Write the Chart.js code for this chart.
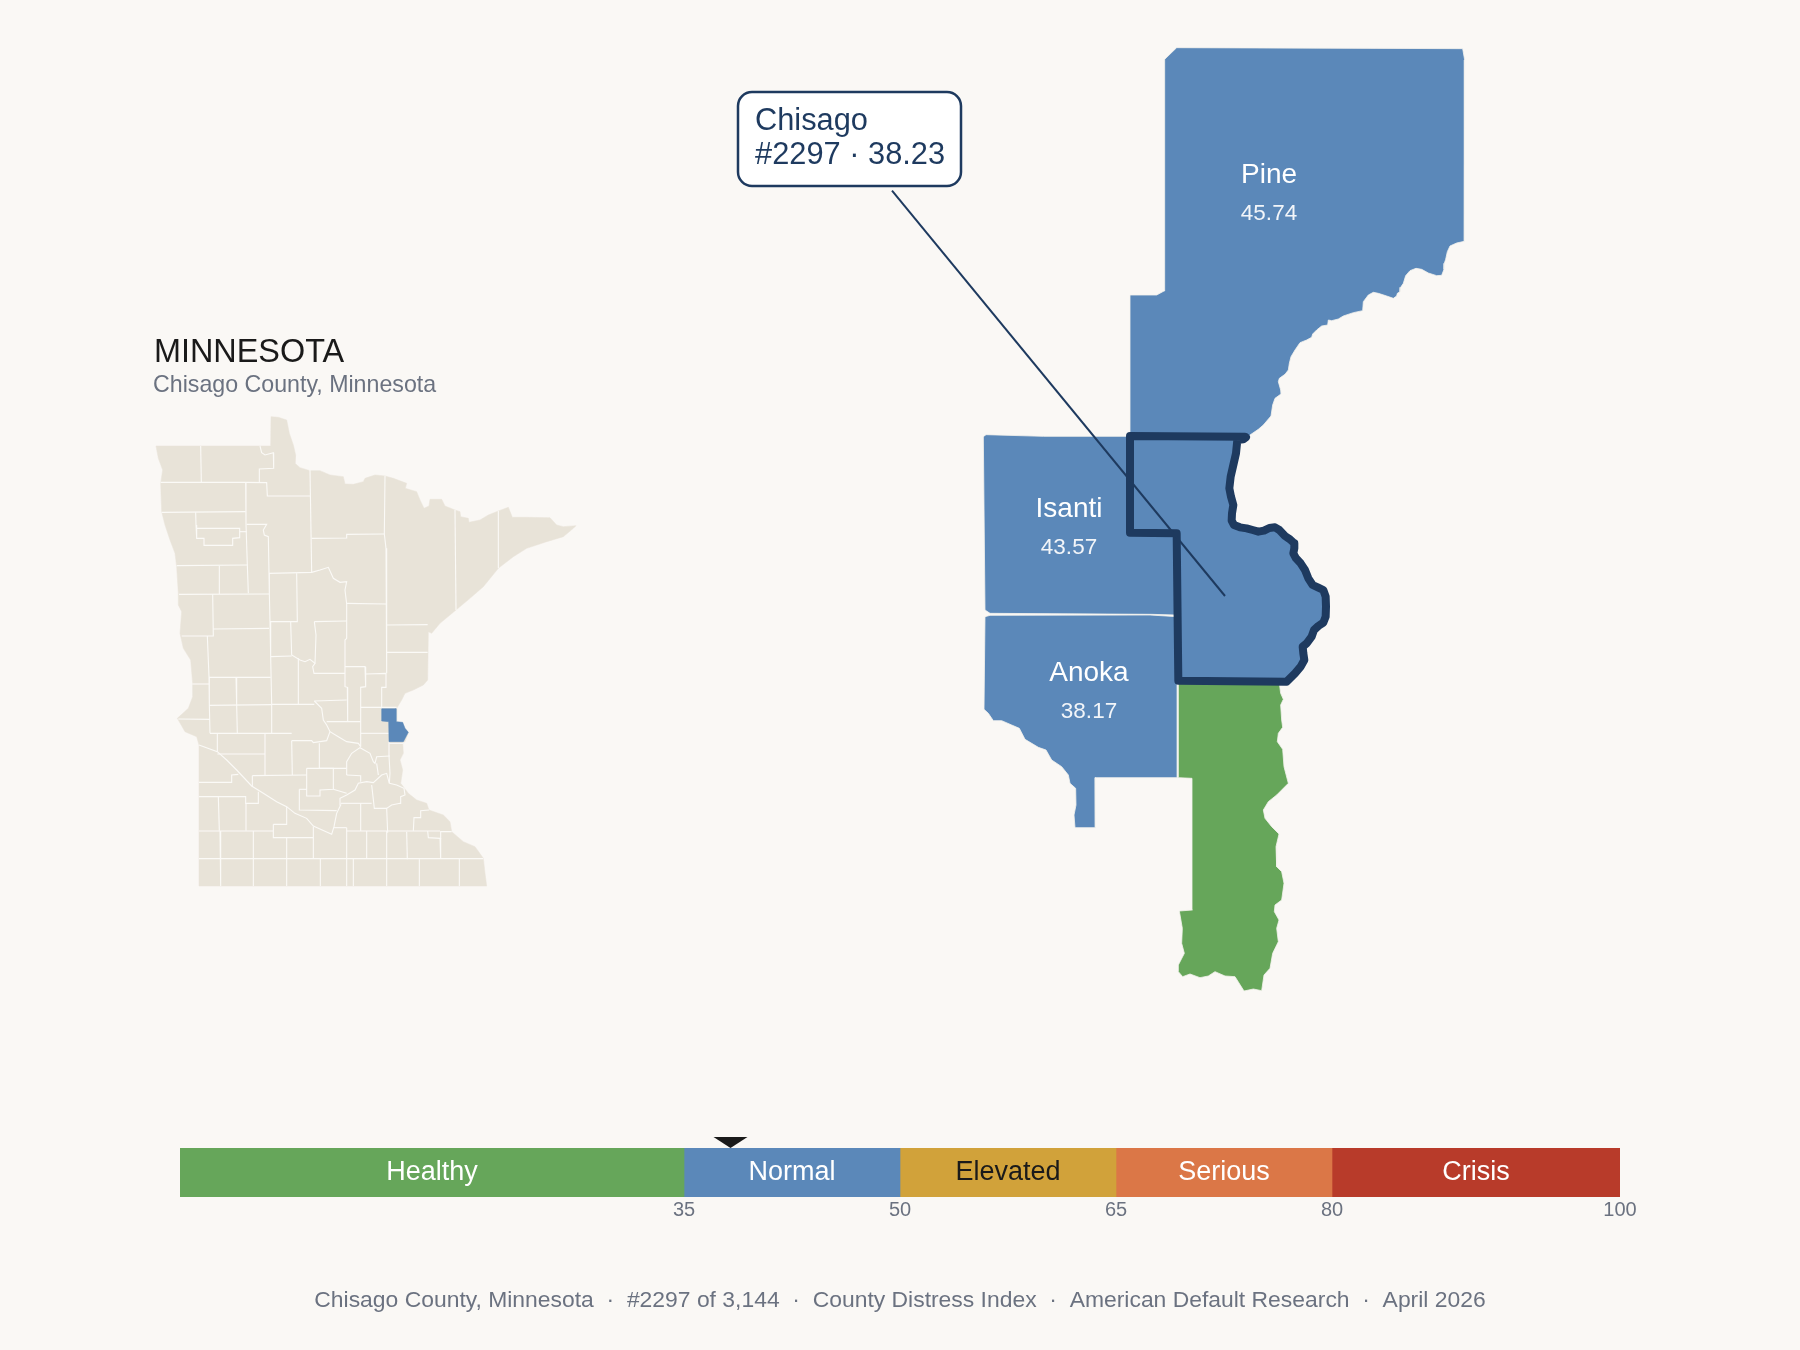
<!DOCTYPE html>
<html>
<head>
<meta charset="utf-8">
<title>Chisago County, Minnesota</title>
<script src="https://cdn.jsdelivr.net/npm/chart.js@4"></script>
<style>
  html, body { margin: 0; padding: 0; background: #faf8f5; }
  #wrap { position: relative; width: 1800px; height: 1350px; overflow: hidden; }
  canvas { position: absolute; left: 0; }
  #mapChart { top: 0; }
  #bandChart { top: 1100px; }
</style>
</head>
<body>
<div id="wrap">
  <canvas id="mapChart" width="1800" height="1350"></canvas>
  <canvas id="bandChart" width="1800" height="130"></canvas>
</div>
<script>
// index bands
const bandNames = ["Healthy", "Normal", "Elevated", "Serious", "Crisis"];
const bandWidths = [35, 15, 15, 15, 20];
const bandTicks = [35, 50, 65, 80, 100];
const bandColors = ["#66a65a", "#5b88b9", "#d1a23a", "#db7747", "#b83b2a"];
const bandTextColors = ["#ffffff", "#ffffff", "#1a1a1a", "#ffffff", "#ffffff"];
const score = 38.23;

// neighbour county labels
const countyNames = ["Pine", "Isanti", "Anoka"];
const countyScores = ["45.74", "43.57", "38.17"];

// county outlines for the zoomed map, in map units
const pineOutline = [[614,88],[650,53],[1508,56],[1514,90],[1513,634],[1490,639],[1470,648],[1462,665],[1457,688],[1453,700],[1452,718],[1445,736],[1430,737],[1405,729],[1385,718],[1368,715],[1350,722],[1337,737],[1330,760],[1322,772],[1320,785],[1312,790],[1310,798],[1300,805],[1280,798],[1255,790],[1240,787],[1225,795],[1210,815],[1208,842],[1180,848],[1150,858],[1135,867],[1115,872],[1105,870],[1103,885],[1085,888],[1070,900],[1058,912],[1055,922],[1040,930],[1020,938],[1005,960],[993,980],[988,1000],[985,1020],[975,1033],[958,1045],[955,1055],[962,1080],[963,1092],[945,1105],[938,1125],[933,1158],[910,1185],[895,1198],[870,1215],[860,1225],[510,1225],[510,795],[590,795],[612,783],[614,88]];
const isantiOutline = [[70,1220],[78,1214],[250,1219],[505,1219],[510,1505],[650,1510],[645,1755],[575,1753],[90,1750],[75,1740],[70,1220]];
const anokaOutline = [[75,1760],[90,1756],[570,1755],[652,1760],[652,2243],[405,2243],[406,2393],[345,2393],[342,2355],[348,2325],[347,2275],[330,2260],[325,2235],[305,2210],[275,2190],[258,2160],[235,2152],[195,2128],[178,2095],[155,2085],[125,2072],[100,2072],[85,2050],[72,2038],[75,1760]];
const washingtonOutline = [[655,1960],[958,1960],[962,1990],[970,2008],[962,2025],[965,2070],[968,2092],[955,2110],[952,2135],[968,2158],[972,2210],[985,2260],[950,2295],[925,2315],[910,2340],[915,2365],[935,2390],[957,2412],[948,2450],[950,2510],[965,2525],[972,2560],[965,2610],[945,2625],[943,2645],[957,2670],[950,2695],[955,2735],[938,2770],[930,2815],[912,2835],[905,2882],[880,2877],[852,2883],[825,2840],[795,2838],[765,2825],[745,2838],[720,2843],[690,2832],[668,2840],[655,2825],[655,2805],[673,2770],[665,2740],[667,2695],[658,2643],[697,2640],[696,2245],[655,2243],[655,1960]];
const chisagoOutline = [[510,1218],[855,1220],[858,1222],[850,1228],[832,1230],[828,1270],[820,1305],[812,1340],[808,1375],[813,1400],[820,1425],[816,1450],[815,1472],[822,1485],[840,1492],[860,1495],[878,1500],[895,1505],[912,1502],[928,1494],[945,1492],[958,1500],[975,1518],[990,1528],[1003,1540],[1003,1555],[1000,1570],[1008,1585],[1022,1600],[1035,1620],[1045,1645],[1058,1665],[1075,1673],[1090,1680],[1097,1700],[1098,1730],[1097,1760],[1090,1778],[1075,1788],[1062,1800],[1055,1820],[1040,1840],[1028,1850],[1030,1870],[1033,1890],[1022,1910],[1005,1930],[980,1955],[655,1952],[650,1510],[510,1508],[510,1218]];
const leaderLine = [[-204,482],[795,1698]];

// state outline and county lines for the small map, in locator units
const stateOutline = [[78,138],[390,138],[422,138],[423,50],[445,52],[470,60],[478,100],[490,135],[497,165],[495,190],[510,203],[540,212],[570,212],[600,225],[640,230],[645,252],[670,253],[700,245],[705,235],[735,225],[765,228],[790,235],[830,250],[826,265],[860,275],[870,300],[882,325],[897,318],[900,298],[935,298],[945,318],[975,330],[990,335],[992,350],[1015,355],[1017,367],[1050,360],[1075,345],[1105,333],[1135,322],[1147,352],[1190,352],[1260,353],[1280,375],[1300,380],[1338,377],[1330,385],[1300,410],[1250,425],[1190,445],[1150,470],[1105,505],[1060,560],[1020,595],[978,630],[930,670],[905,700],[895,695],[893,840],[880,855],[850,870],[825,880],[815,900],[800,925],[800,965],[815,968],[825,985],[835,997],[825,1025],[818,1027],[820,1060],[810,1080],[818,1110],[812,1150],[835,1180],[860,1200],[890,1210],[897,1230],[940,1245],[960,1265],[965,1295],[1000,1325],[1035,1340],[1060,1375],[1065,1420],[1070,1458],[207,1458],[207,1035],[200,1010],[165,995],[142,955],[175,925],[188,890],[188,850],[182,780],[160,745],[150,700],[155,635],[145,615],[145,580],[140,500],[135,460],[120,420],[105,375],[95,335],[92,250],[98,210],[85,175],[78,138]];
const chisagoLocator = [[755,926],[798,926],[798,965],[818,967],[825,985],[835,997],[820,1025],[777,1025],[776,965],[755,963],[755,926]];
const countyLines = [
  [[212,138],[214,246]],
  [[92,247],[345,247],[410,248],[412,288],[540,288]],
  [[390,138],[395,158],[405,165],[430,158],[431,205],[388,207],[388,247]],
  [[347,248],[348,373],[352,495],[355,580]],
  [[95,337],[347,335]],
  [[197,337],[198,375],[200,415],[222,415],[222,436],[307,436],[308,415],[329,413],[329,385],[200,385]],
  [[329,395],[350,395]],
  [[350,373],[410,373],[400,390],[403,405],[415,410],[417,520],[418,580],[420,665],[422,770],[425,913],[425,1000]],
  [[140,497],[352,495]],
  [[268,497],[268,582]],
  [[147,583],[417,582]],
  [[248,583],[250,708],[155,708]],
  [[250,687],[417,685]],
  [[417,520],[545,517],[570,510],[595,502],[610,535],[630,547],[650,545],[645,570],[650,612],[650,715],[645,720],[645,860],[652,862],[653,965]],
  [[540,210],[545,517]],
  [[545,415],[650,414],[650,403],[763,402]],
  [[765,228],[763,402],[768,445],[770,672],[770,820]],
  [[650,610],[768,612]],
  [[500,520],[502,665],[420,665]],
  [[482,665],[485,765],[510,780],[525,785],[540,778],[555,790],[548,800],[552,820],[645,820]],
  [[553,665],[650,663]],
  [[553,665],[558,705],[555,790]],
  [[645,800],[705,800],[707,860],[692,862],[692,1040]],
  [[707,822],[768,820],[768,862],[755,862],[755,926]],
  [[770,675],[893,674]],
  [[770,757],[893,757]],
  [[975,330],[978,630]],
  [[1105,333],[1105,505]],
  [[232,708],[237,830],[238,915],[240,1000]],
  [[237,832],[422,832]],
  [[318,832],[320,915],[322,1000]],
  [[237,916],[425,914]],
  [[187,852],[237,852]],
  [[425,913],[553,913]],
  [[505,775],[505,913]],
  [[422,770],[485,768]],
  [[553,903],[650,900]],
  [[553,903],[575,925],[580,960],[590,975],[600,995],[625,1010],[650,1025],[685,1030],[692,1040]],
  [[145,957],[240,958]],
  [[240,1000],[485,1000]],
  [[262,1000],[262,1055]],
  [[207,1035],[262,1055],[290,1080],[320,1110],[365,1158],[400,1180],[440,1205],[470,1220],[495,1240],[530,1255],[550,1278],[605,1303],[612,1280],[620,1240],[632,1215],[630,1195],[650,1185],[675,1170],[685,1150],[710,1145],[730,1148],[755,1125],[770,1120],[778,1150]],
  [[262,1062],[405,1062]],
  [[405,1000],[405,1125]],
  [[485,1022],[487,1125]],
  [[485,1022],[545,1022],[550,1028],[570,1025],[590,1022],[600,995]],
  [[568,1030],[568,1105],[650,1105]],
  [[590,965],[692,965]],
  [[692,922],[800,922]],
  [[692,1000],[777,1000]],
  [[777,1025],[777,1068],[780,1120],[778,1150]],
  [[777,1030],[820,1030]],
  [[650,1125],[650,1085],[665,1060],[690,1043],[720,1060],[730,1085],[735,1090],[740,1070],[780,1068]],
  [[740,1090],[745,1125]],
  [[650,1125],[692,1127],[692,1145]],
  [[530,1105],[610,1105],[610,1168],[570,1170],[570,1188],[530,1188],[530,1105]],
  [[367,1127],[530,1125]],
  [[367,1127],[367,1160]],
  [[207,1147],[305,1147],[305,1125],[325,1123]],
  [[207,1190],[347,1190],[347,1210],[385,1210],[385,1175]],
  [[265,1190],[268,1292]],
  [[348,1210],[348,1292]],
  [[207,1293],[430,1293]],
  [[430,1273],[470,1273],[470,1220]],
  [[430,1273],[430,1313],[550,1313]],
  [[508,1168],[508,1230],[620,1232]],
  [[508,1168],[530,1168]],
  [[610,1168],[650,1180]],
  [[632,1210],[725,1210]],
  [[725,1155],[733,1225],[770,1225],[773,1298]],
  [[770,1225],[785,1215],[810,1210],[812,1190],[825,1185],[822,1165],[800,1155],[778,1150]],
  [[550,1280],[550,1375]],
  [[470,1313],[470,1375]],
  [[370,1293],[370,1458]],
  [[207,1376],[1060,1376]],
  [[270,1293],[272,1458]],
  [[650,1283],[650,1458]],
  [[692,1210],[692,1293]],
  [[612,1283],[650,1283]],
  [[650,1293],[930,1293]],
  [[710,1293],[710,1376]],
  [[770,1293],[770,1458]],
  [[830,1295],[832,1378]],
  [[850,1293],[852,1253],[872,1253],[872,1232],[897,1230]],
  [[893,1293],[895,1313],[930,1315],[932,1295],[965,1295]],
  [[930,1315],[932,1376]],
  [[470,1376],[470,1458]],
  [[571,1376],[571,1458]],
  [[670,1376],[670,1458]],
  [[868,1378],[868,1458]],
  [[988,1376],[988,1458]]
];

const fontFamily = '"Liberation Sans", Arial, sans-serif';
const navy = "#1e3a5f";
const gray = "#6b7280";
const blue = "#5b88b9";
const green = "#66a65a";

function toPoints(list) {
  return list.map(function (p) {
    return { x: p[0], y: p[1] };
  });
}

// filled county shape on the zoomed map
function shape(list, fillColor, lineColor, lineWidth) {
  return {
    data: toPoints(list),
    xAxisID: "xMain",
    yAxisID: "yMain",
    showLine: true,
    fill: "shape",
    backgroundColor: fillColor,
    borderColor: lineColor,
    borderWidth: lineWidth,
    borderJoinStyle: "round",
    borderCapStyle: "round",
    pointRadius: 0,
    tension: 0
  };
}

function locator(list, fillColor, lineColor, lineWidth, filled) {
  return {
    data: toPoints(list),
    xAxisID: "xInset",
    yAxisID: "yInset",
    showLine: true,
    fill: filled ? "shape" : false,
    backgroundColor: fillColor,
    borderColor: lineColor,
    borderWidth: lineWidth,
    pointRadius: 0,
    tension: 0
  };
}

let layers = [];
layers.push(locator(stateOutline, "#e8e3d8", "#e8e3d8", 0.5, true));
countyLines.forEach(function (line) {
  layers.push(locator(line, "#fbfaf7", "#fbfaf7", 1.1, false));
});
layers.push(locator(chisagoLocator, blue, blue, 0.5, true));
layers.push(shape(pineOutline, blue, "#f4f2ee", 0.8));
layers.push(shape(isantiOutline, blue, "#f4f2ee", 0.8));
layers.push(shape(anokaOutline, blue, "#f4f2ee", 0.8));
layers.push(shape(washingtonOutline, green, "#f4f2ee", 0.8));
layers.push(shape(chisagoOutline, blue, navy, 8));
layers.push({
  data: toPoints(leaderLine),
  xAxisID: "xMain",
  yAxisID: "yMain",
  showLine: true,
  fill: false,
  borderColor: navy,
  borderWidth: 2,
  pointRadius: 0
});
// first dataset has to end up at the bottom
layers.forEach(function (layer, i) {
  layer.order = layers.length - i;
});

function drawText(ctx, text, x, y, font, color, align) {
  ctx.font = font + " " + fontFamily;
  ctx.fillStyle = color;
  ctx.textAlign = align || "left";
  ctx.textBaseline = "alphabetic";
  ctx.fillText(text, x, y);
}

const mapText = {
  id: "mapText",
  afterDatasetsDraw(chart) {
    const ctx = chart.ctx;
    ctx.save();
    drawText(ctx, "MINNESOTA", 154, 362, "32.4px", "#1a1a1a");
    drawText(ctx, "Chisago County, Minnesota", 153, 392, "23.2px", gray);

    const nameX = [1269, 1069, 1089];
    const nameY = [183, 517, 681];
    const scoreY = [220, 554, 718];
    countyNames.forEach(function (name, i) {
      drawText(ctx, name, nameX[i], nameY[i], "28px", "#ffffff", "center");
      drawText(ctx, countyScores[i], nameX[i], scoreY[i], "22.5px", "#f2f5f9", "center");
    });

    // callout box
    ctx.beginPath();
    ctx.roundRect(738, 92, 223, 94, 14);
    ctx.fillStyle = "#ffffff";
    ctx.fill();
    ctx.lineWidth = 2.5;
    ctx.strokeStyle = navy;
    ctx.stroke();
    drawText(ctx, "Chisago", 755, 130, "30.8px", navy);
    drawText(ctx, "#2297 · " + score, 755, 164, "30.8px", navy);

    drawText(ctx, "Chisago County, Minnesota  ·  #2297 of 3,144  ·  County Distress Index  ·  American Default Research  ·  April 2026", 900, 1307, "22.9px", gray, "center");
    ctx.restore();
  }
};

new Chart(document.getElementById("mapChart"), {
  type: "scatter",
  data: { datasets: layers },
  plugins: [mapText],
  options: {
    responsive: false,
    animation: false,
    events: [],
    layout: { padding: 0 },
    plugins: { legend: { display: false }, tooltip: { enabled: false } },
    scales: {
      xMain: { type: "linear", axis: "x", display: false, min: -2880, max: 2520 },
      yMain: { type: "linear", axis: "y", display: false, min: -90, max: 3960, reverse: true },
      xInset: { type: "linear", axis: "x", display: false, min: -390, max: 5010 },
      yInset: { type: "linear", axis: "y", display: false, min: -1200, max: 2850, reverse: true }
    }
  }
});

const bandText = {
  id: "bandText",
  afterDatasetsDraw(chart) {
    const ctx = chart.ctx;
    ctx.save();
    chart.data.datasets.forEach(function (ds, i) {
      const bar = chart.getDatasetMeta(i).data[0];
      const mid = bar.getCenterPoint();
      drawText(ctx, bandNames[i], mid.x, chart.chartArea.top + 32, "27px", bandTextColors[i], "center");
    });
    // score marker above the bar
    const x = chart.scales.x.getPixelForValue(score);
    const top = chart.chartArea.top;
    ctx.beginPath();
    ctx.moveTo(x - 17, top - 11);
    ctx.lineTo(x + 17, top - 11);
    ctx.lineTo(x, top);
    ctx.closePath();
    ctx.fillStyle = "#1a1a1a";
    ctx.fill();
    ctx.restore();
  }
};

new Chart(document.getElementById("bandChart"), {
  type: "bar",
  data: {
    labels: ["Index"],
    datasets: bandNames.map(function (name, i) {
      return {
        label: name,
        data: [bandWidths[i]],
        backgroundColor: bandColors[i],
        categoryPercentage: 1,
        barPercentage: 1
      };
    })
  },
  plugins: [bandText],
  options: {
    indexAxis: "y",
    responsive: false,
    animation: false,
    events: [],
    layout: { padding: { left: 180, right: 180, top: 48, bottom: 0 } },
    plugins: { legend: { display: false }, tooltip: { enabled: false } },
    scales: {
      x: {
        stacked: true,
        min: 0,
        max: 100,
        grid: { display: false, drawTicks: false },
        border: { display: false },
        afterBuildTicks(axis) {
          axis.ticks = bandTicks.map(function (v) {
            return { value: v };
          });
        },
        afterFit(axis) {
          axis.height = 33;
        },
        ticks: {
          autoSkip: false,
          maxRotation: 0,
          padding: 1,
          color: gray,
          font: { family: fontFamily, size: 20 }
        }
      },
      y: { stacked: true, display: false }
    }
  }
});
</script>
</body>
</html>
